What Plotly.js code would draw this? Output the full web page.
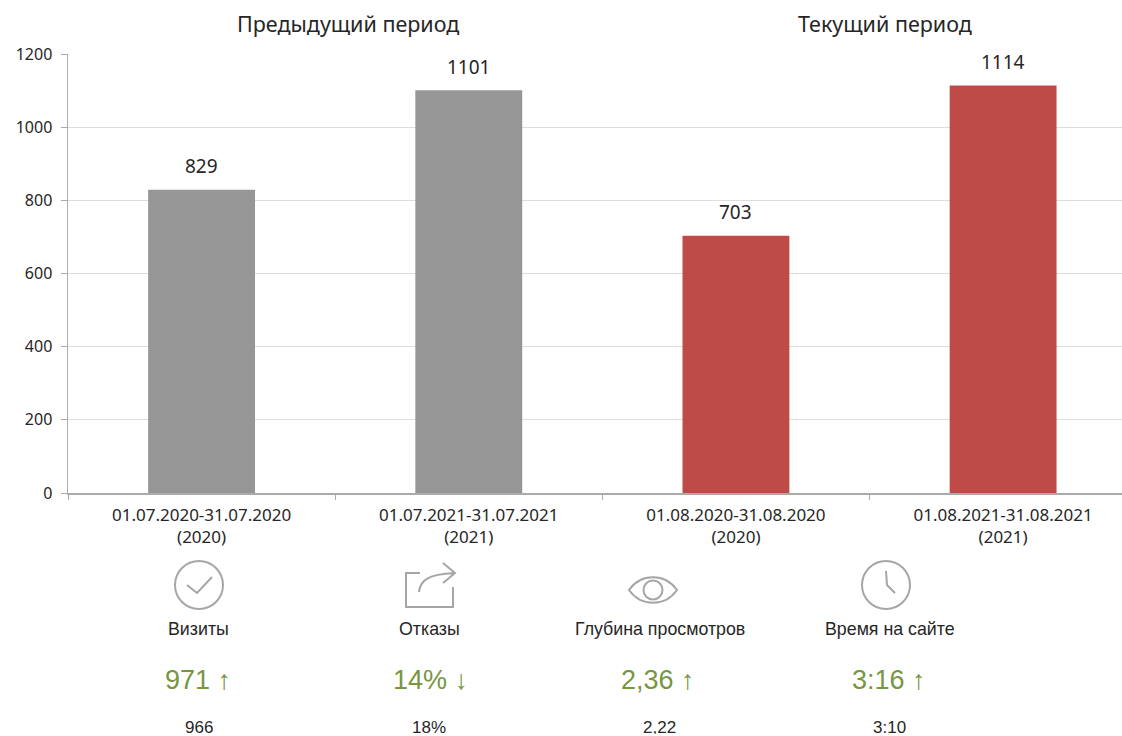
<!DOCTYPE html>
<html><head><meta charset="utf-8">
<script src="https://cdn.plot.ly/plotly-3.0.1.min.js"></script>
<style>html,body{margin:0;padding:0;background:#fff;overflow:hidden}#c{width:1122px;height:736px}</style>
</head><body><div id="c"></div>
<script>
const periods = ["01.07.2020-31.07.2020<br>(2020)","01.07.2021-31.07.2021<br>(2021)","01.08.2020-31.08.2020<br>(2020)","01.08.2021-31.08.2021<br>(2021)"];
const visits = [829,1101,703,1114];
const barColors = ["#969696","#969696","#BE4B48","#BE4B48"];
const groupTitles = ["Предыдущий период","Текущий период"];
const metricNames = ["Визиты","Отказы","Глубина просмотров","Время на сайте"];
const metricValues = ["971 ↑","14% ↓","2,36 ↑","3:16 ↑"];
const metricPrevious = ["966","18%","2,22","3:10"];

const W=1122,H=736,L=68,T=54.4,B=493.5;
const fx=x=>(x-L)/(W-L), fy=y=>(B-y)/(B-T);
const chartFont="Noto Sans", infoFont="Liberation Sans";
const iconLine={color:"#A6A6A6",width:2};

const annotations=[];
visits.forEach((v,i)=>annotations.push({x:periods[i],y:v,xref:"x",yref:"y",text:String(v),showarrow:false,
  yanchor:"middle",yshift:23.5,font:{family:chartFont,size:19,color:"#262626"}}));
[[348,23.5],[885,23.5]].forEach((p,i)=>annotations.push({x:fx(p[0]),y:fy(p[1]),xref:"paper",yref:"paper",text:groupTitles[i],
  showarrow:false,xanchor:"center",yanchor:"middle",font:{family:chartFont,size:21.5,color:"#262626"}}));
const cols=[[198.5,198,198.5],[429,430,429],[659.5,658,659.5],[890,889,889]];
cols.forEach((c,i)=>{
  const t=(x,y,text,size,color,extra)=>annotations.push(Object.assign({x:fx(x),y:fy(y),xref:"paper",yref:"paper",text,showarrow:false,
    xanchor:"center",yanchor:"middle",font:{family:infoFont,size,color}},extra||{}));
  t(c[0],629.5,metricNames[i],17.8,"#262626");
  t(c[1],680.5,metricValues[i],27,"#76963F");
  t(c[2],727.5,metricPrevious[i],17,"#262626",{height:14,borderpad:0,valign:"middle"});
});
const circle=(cx,cy,r)=>({type:"circle",xref:"paper",yref:"paper",x0:fx(cx-r),x1:fx(cx+r),y0:fy(cy+r),y1:fy(cy-r),line:iconLine});
const path=(ax,ay,d)=>({type:"path",xref:"paper",yref:"paper",xsizemode:"pixel",ysizemode:"pixel",xanchor:fx(ax),yanchor:fy(ay),path:d,line:iconLine});
const shapes=[
  circle(199,585.5,24),
  path(199,585.5,"M -12 0 L -2 -8 L 13 8"),
  path(406,573.5,"M 14 0 L 0 0 L 0 -34 L 47 -34 L 47 -14"),
  path(406,573.5,"M 13 -19 C 14 -9 20 -1 49 0 M 37 10 L 49 0 L 37 -10"),
  path(653,590.5,"M -24 0 C -12 17 12 17 24 0 C 12 -17 -12 -17 -24 0 Z"),
  circle(653,590.5,9.5),
  circle(886,585.5,24),
  path(886,585.5,"M 0 14 L 1 0 L 9 -8")
];
Plotly.newPlot("c",[{type:"bar",x:periods,y:visits,marker:{color:barColors,line:{width:0}},hoverinfo:"x+y"}],{
  width:W,height:H,paper_bgcolor:"#fff",plot_bgcolor:"#fff",showlegend:false,bargap:0.6,
  margin:{l:L,r:0,t:T,b:H-B,pad:0},
  font:{family:chartFont,size:16,color:"#262626"},
  xaxis:{type:"category",categoryorder:"array",categoryarray:periods,range:[-0.5,3.445],tickson:"boundaries",ticks:"outside",ticklen:5,tickcolor:"#ABABAB",tickwidth:1,ticklabelstandoff:6,
    showline:true,linecolor:"#ABABAB",linewidth:1.5,showgrid:false,zeroline:false,tickangle:0,tickfont:{family:chartFont,size:17,color:"#262626"},automargin:false},
  yaxis:{range:[0,1200],tickvals:[0,200,400,600,800,1000,1200],ticks:"outside",ticklen:6,tickcolor:"#ABABAB",tickwidth:1,ticklabelstandoff:5,
    showline:true,linecolor:"#ABABAB",linewidth:1.5,showgrid:true,gridcolor:"#DDDDDD",gridwidth:1,zeroline:false,tickfont:{family:chartFont,size:16,color:"#262626"},automargin:false},
  annotations,shapes
},{displayModeBar:false,staticPlot:true});
</script></body></html>
